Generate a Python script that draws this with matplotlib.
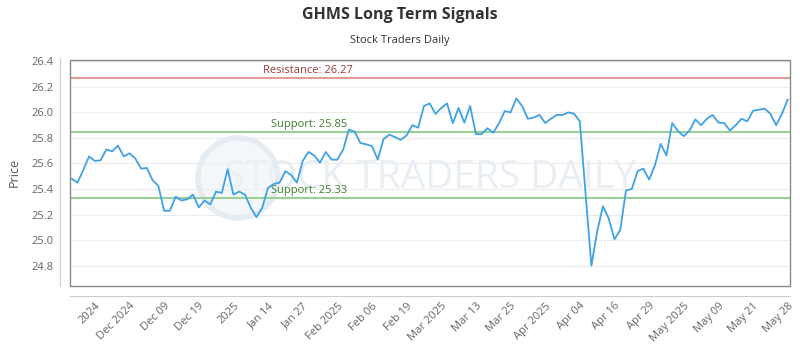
import matplotlib
matplotlib.use("Agg")
import matplotlib.pyplot as plt
from matplotlib.patches import Rectangle, Ellipse
import matplotlib.transforms as mtransforms

plt.rcParams['font.family'] = ['Open Sans', 'DejaVu Sans']

prices = [
    25.48, 25.45, 25.55, 25.655, 25.62, 25.625, 25.71, 25.695, 25.74, 25.655,
    25.68, 25.64, 25.56, 25.565, 25.47, 25.425, 25.23, 25.23, 25.34, 25.31,
    25.32, 25.357, 25.256, 25.31, 25.28, 25.38, 25.37, 25.555, 25.357, 25.38,
    25.357, 25.254, 25.18, 25.254, 25.41, 25.44, 25.45, 25.54, 25.51, 25.45,
    25.62, 25.69, 25.663, 25.606, 25.69, 25.63, 25.63, 25.707, 25.865, 25.85,
    25.76, 25.75, 25.736, 25.63, 25.79, 25.826, 25.806, 25.785, 25.82, 25.90,
    25.88, 26.05, 26.07, 25.988, 26.035, 26.07, 25.915, 26.035, 25.92, 26.05,
    25.83, 25.83, 25.876, 25.84, 25.915, 26.01, 26.0, 26.11, 26.05, 25.95,
    25.96, 25.98, 25.917, 25.95, 25.98, 25.98, 26.0, 25.99, 25.93, 25.36,
    24.80, 25.067, 25.266, 25.17, 25.007, 25.08, 25.39, 25.40, 25.54, 25.56,
    25.474, 25.585, 25.754, 25.663, 25.917, 25.853, 25.814, 25.858, 25.945, 25.90,
    25.95, 25.98, 25.92, 25.917, 25.858, 25.90, 25.95, 25.93, 26.013, 26.02,
    26.03, 25.99, 25.90, 25.988, 26.10,
]

tick_labels = ["2024", "Dec 2024", "Dec 09", "Dec 19", "2025", "Jan 14", "Jan 27",
               "Feb 2025", "Feb 06", "Feb 19", "Mar 2025", "Mar 13", "Mar 25",
               "Apr 2025", "Apr 04", "Apr 16", "Apr 29", "May 2025", "May 09",
               "May 21", "May 28"]
tick_idx = [4 + 6 * i for i in range(len(tick_labels))]

resistance = 26.27
supports = [25.85, 25.33]
y_ticks = [24.8, 25.0, 25.2, 25.4, 25.6, 25.8, 26.0, 26.2, 26.4]

fig = plt.figure(figsize=(8, 3.5), dpi=100)
ax = fig.add_axes([70 / 800, 1 - 286 / 350, 720 / 800, 226.5 / 350])

x = list(range(len(prices)))
ax.set_xlim(-0.3, len(prices) - 1 + 0.4)
ax.set_ylim(24.641, 26.414)

# grid
for yt in y_ticks:
    ax.axhline(yt, color='#ececec', lw=0.8, zorder=0)

# watermark
ax.text(0.5, (286 - 178) / 226.5, "STOCK TRADERS DAILY", transform=ax.transAxes,
        ha='center', va='center', fontsize=28, color='#e9eef4', zorder=1)
ring = Ellipse((238 / 800, 1 - 178 / 350), 80 / 800, 80 / 350, transform=fig.transFigure,
               facecolor=(0.93, 0.95, 0.97, 0.6), edgecolor=(0.88, 0.91, 0.94, 0.8),
               lw=4, zorder=1)
ax.add_artist(ring)

# signal lines
ax.axhline(resistance, color='#e29a9a', lw=1.5, zorder=2)
for s in supports:
    ax.axhline(s, color='#98d098', lw=1.5, zorder=2)

trans = mtransforms.blended_transform_factory(ax.transAxes, ax.transData)
ax.text(0.268, resistance + 0.012, f"Resistance: {resistance:.2f}", transform=trans,
        color='#9e3b3b', fontsize=8, va='bottom', ha='left', zorder=3)
for s in supports:
    ax.text(0.279, s + 0.012, f"Support: {s:.2f}", transform=trans,
            color='#3f7f2f', fontsize=8, va='bottom', ha='left', zorder=3)

ax.plot(x, prices, color='#3fa2e6', lw=1.3, zorder=4)

# frame
ax.add_patch(Rectangle((0, 0), 1, 1, transform=ax.transAxes, fill=False,
                       edgecolor='#8a8a8a', lw=1.0, clip_on=False, zorder=5))

for side in ['top', 'right']:
    ax.spines[side].set_visible(False)
ax.spines['bottom'].set_position(('outward', 7.5))
ax.spines['left'].set_position(('outward', 7.5))
ax.spines['bottom'].set_color('#cccccc')
ax.spines['left'].set_color('#cccccc')

ax.set_yticks(y_ticks)
ax.set_yticklabels([f"{v:.1f}" for v in y_ticks])
ax.set_xticks(tick_idx)
ax.set_xticklabels(tick_labels, rotation=45, ha='right', rotation_mode='anchor')
ax.tick_params(axis='x', length=0, pad=3, labelsize=8, labelcolor='#666666')
ax.tick_params(axis='y', length=0, pad=4, labelsize=8, labelcolor='#666666')

ax.set_ylabel("Price", fontsize=9, color='#555555', labelpad=8)

fig.text(0.5, 1 - 15 / 350, "GHMS Long Term Signals", ha='center', va='center',
         fontsize=11.5, fontweight='bold', color='#333333')
fig.text(0.5, 1 - 40 / 350, "Stock Traders Daily", ha='center', va='center',
         fontsize=8, color='#333333')

fig.savefig("out.png", dpi=100)
